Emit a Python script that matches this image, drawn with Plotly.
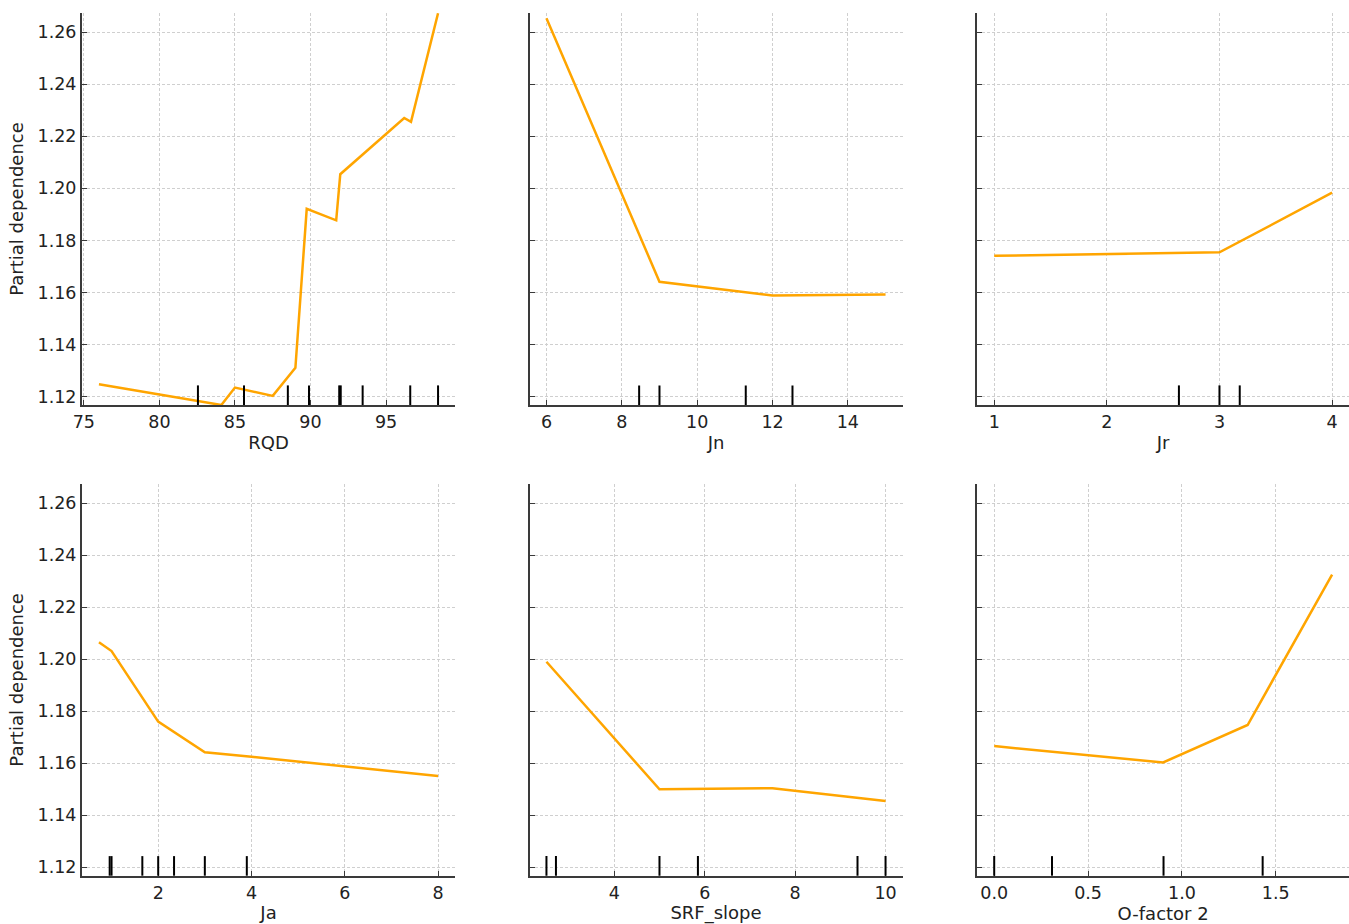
import plotly.graph_objects as go

W, H = 1349, 924

# ---- data ----
rqd_x = [76.0, 84.1, 85.0, 87.5, 89.0, 89.75, 91.7, 91.97, 96.2, 96.65, 98.44]
rqd_y = [1.1248, 1.1168, 1.1235, 1.1203, 1.1311, 1.1921, 1.1877, 1.2054, 1.2270, 1.2255, 1.2672]
rqd_deciles = [82.55, 85.6, 88.5, 89.9, 91.9, 92.0, 93.45, 96.6, 98.44]

jn_x = [6, 9, 12, 15]
jn_y = [1.2653, 1.1641, 1.1588, 1.1592]
jn_deciles = [8.46, 9.0, 11.29, 12.53]

jr_x = [1, 2, 3, 4]
jr_y = [1.1741, 1.1747, 1.1754, 1.1983]
jr_deciles = [2.64, 3.0, 3.18]

ja_x = [0.73, 1.0, 2.0, 3.0, 4.0, 6.0, 8.0]
ja_y = [1.2065, 1.2031, 1.1760, 1.1642, 1.1625, 1.1587, 1.1551]
ja_deciles = [0.96, 1.0, 1.66, 2.0, 2.34, 3.0, 3.9]

srf_x = [2.5, 5.0, 7.5, 10.0]
srf_y = [1.1990, 1.1500, 1.1504, 1.1455]
srf_deciles = [2.5, 2.71, 5.0, 5.85, 9.38, 10.0]

of_x = [0.0, 0.9, 1.35, 1.8]
of_y = [1.1666, 1.1603, 1.1747, 1.2325]
of_deciles = [0.0, 0.308, 0.902, 1.43]

features = ["RQD", "Jn", "Jr", "Ja", "SRF_slope", "O-factor 2"]
xs = [rqd_x, jn_x, jr_x, ja_x, srf_x, of_x]
ys = [rqd_y, jn_y, jr_y, ja_y, srf_y, of_y]
deciles = [rqd_deciles, jn_deciles, jr_deciles, ja_deciles, srf_deciles, of_deciles]
dticks = [5, 2, 1, 2, 2, 0.5]
tickformats = ["d", "d", "d", "d", "d", ".1f"]

y_min, y_max = 1.1168, 1.2673
y_tick_vals = [1.12, 1.14, 1.16, 1.18, 1.20, 1.22, 1.24, 1.26]

# ---- layout geometry (pixels) ----
col_px = [(82, 455), (529.5, 902.5), (977.3, 1349)]
row_px = [(13, 405), (484, 875.7)]

LINE_COLOR = "#FFA500"
TEXT = "#222222"
GRID = "#cfcfcf"
SPINE = "#3a3a3a"
FONT = "DejaVu Sans"

fig = go.Figure()
layout = dict(
    width=W, height=H, autosize=False,
    margin=dict(l=0, r=0, t=0, b=0),
    paper_bgcolor="white", plot_bgcolor="white",
    showlegend=False,
    font=dict(family=FONT, size=17, color=TEXT),
)
shapes = []

for i, feat in enumerate(features):
    r, c = divmod(i, 3)
    n = i + 1
    xa = "xaxis" if n == 1 else f"xaxis{n}"
    ya = "yaxis" if n == 1 else f"yaxis{n}"
    xref = "x" if n == 1 else f"x{n}"
    yref = "y" if n == 1 else f"y{n}"

    allx = list(xs[i]) + list(deciles[i])
    lo, hi = min(allx), max(allx)
    pad = 0.05 * (hi - lo)

    fig.add_trace(go.Scatter(
        x=xs[i], y=ys[i], mode="lines",
        line=dict(color=LINE_COLOR, width=2.5),
        xaxis=xref, yaxis=yref, hoverinfo="skip",
    ))

    for d in deciles[i]:
        shapes.append(dict(
            type="line", xref=xref, yref=f"{yref} domain",
            x0=d, x1=d, y0=0, y1=0.05,
            line=dict(color="black", width=2),
        ))

    x0p, x1p = col_px[c]
    y0p, y1p = row_px[r]
    layout[xa] = dict(
        domain=[x0p / W, min(x1p / W, 1.0)],
        anchor=yref,
        range=[lo - pad, hi + pad],
        dtick=dticks[i], tick0=0,
        tickformat=tickformats[i],
        showgrid=True, gridcolor=GRID, griddash="3px,2px", gridwidth=1,
        zeroline=False,
        showline=True, linecolor=SPINE, linewidth=2,
        ticks="inside", ticklen=5, tickcolor=SPINE, tickwidth=1,
        tickfont=dict(family=FONT, size=17.5, color=TEXT),
        title=dict(text=feat, font=dict(family=FONT, size=18, color=TEXT), standoff=5),
        automargin=False,
    )
    layout[ya] = dict(
        domain=[1 - y1p / H, 1 - y0p / H],
        anchor=xref,
        range=[y_min, y_max],
        tickvals=y_tick_vals,
        tickformat=".2f",
        showticklabels=(c == 0),
        showgrid=True, gridcolor=GRID, griddash="3px,2px", gridwidth=1,
        zeroline=False,
        showline=True, linecolor=SPINE, linewidth=2,
        ticks="inside", ticklen=5, tickcolor=SPINE, tickwidth=1,
        tickfont=dict(family=FONT, size=17.5, color=TEXT),
        title=dict(text="Partial dependence" if c == 0 else "",
                   font=dict(family=FONT, size=18, color=TEXT), standoff=9),
        automargin=False,
    )

layout["shapes"] = shapes
fig.update_layout(**layout)
fig.write_html("out.html")
